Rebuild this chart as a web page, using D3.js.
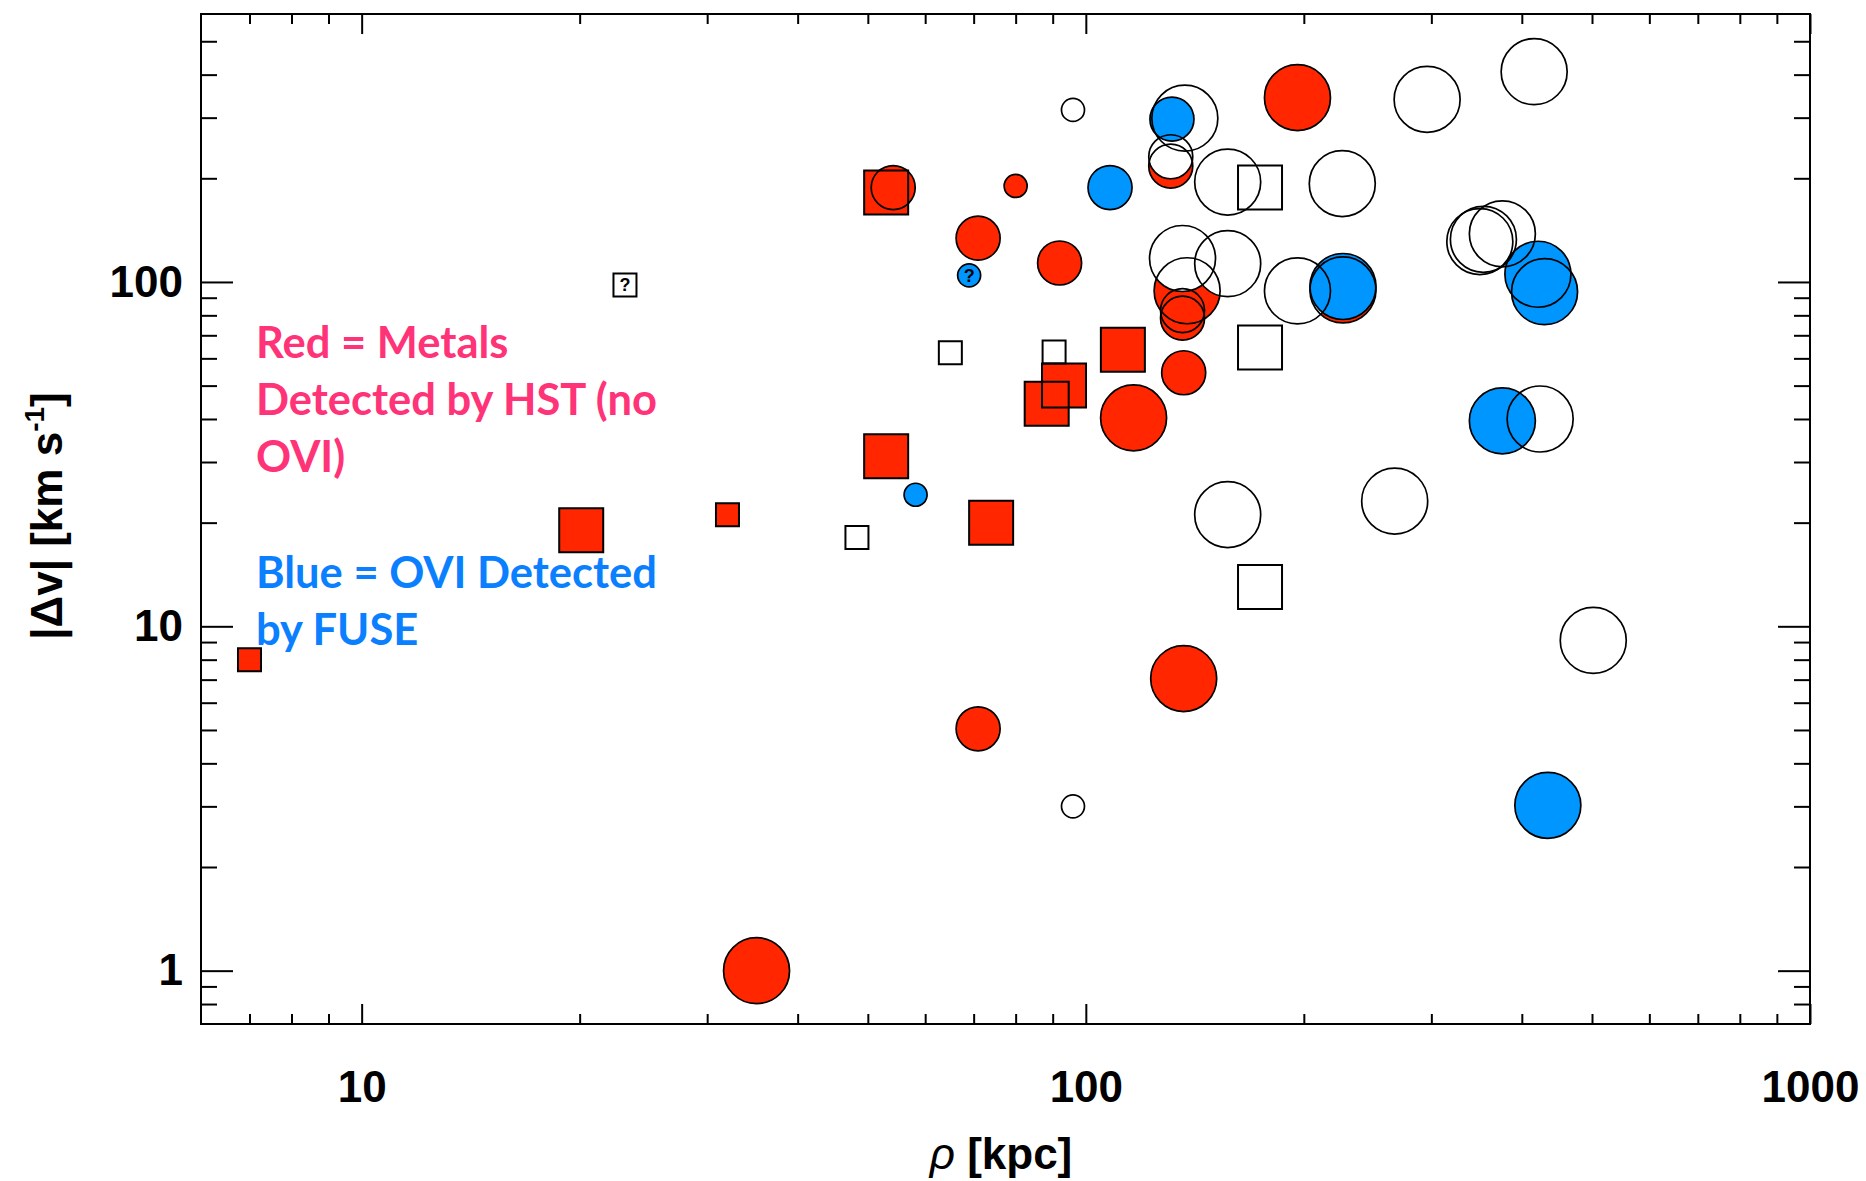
<!DOCTYPE html>
<html>
<head>
<meta charset="utf-8">
<script src="https://cdn.jsdelivr.net/npm/d3@7"></script>
<style>
  body { margin: 0; background: #fff; }
  .tick text { font-family: "Liberation Sans", Arial, sans-serif; font-weight: bold; font-size: 44px; fill: #000; }
  .axis-title { font-family: "Liberation Sans", Arial, sans-serif; font-weight: bold; font-size: 44px; fill: #000; }
  .note { font-family: Lato, "Open Sans", sans-serif; font-weight: bold; font-size: 43.5px; }
</style>
</head>
<body>
<div id="chart"></div>
<script>
// SVG size and margins
var svgWidth = 1866;
var svgHeight = 1181;
var margin = { top: 14, right: 56, bottom: 157, left: 201 };
var width = svgWidth - margin.left - margin.right;
var height = svgHeight - margin.top - margin.bottom;

// impact parameter rho [kpc]
var rho = [7.0, 20.1, 32, 53, 53, 74, 93.3, 88.3, 112.5,
    54.2, 80, 71, 92, 131, 196, 138, 136, 136, 136.5, 116.4, 136.5, 71, 35.1, 226.5,
    96, 137, 131, 157, 296, 416, 226, 136, 157, 196, 350, 354, 376, 424, 267, 157, 502, 96,
    23.1, 48.3, 65, 90.4, 174, 174, 174,
    58.2, 69, 108, 131.5, 226.5, 430, 421, 376, 434.5];
// |delta v| [km/s]
var dv = [8.0, 19.0, 21.1, 182, 31.2, 20, 50, 44.3, 63.5,
    188, 190, 134, 113.5, 217, 343, 94.3, 82.6, 78.5, 54.5, 40.3, 7.05, 5.04, 1.0, 94.8,
    316, 299, 231, 195, 339, 408, 193, 117, 113, 94.2, 131, 133, 138, 40, 23.1, 21.1, 9.1, 3.0,
    98, 18.1, 62.3, 62.6, 188, 64.5, 13,
    24.1, 104.5, 188, 297, 97, 93.7, 105.3, 39.5, 3.02];
// symbol: c = circle, s = square
var shape = ['s', 's', 's', 's', 's', 's', 's', 's', 's',
    'c', 'c', 'c', 'c', 'c', 'c', 'c', 'c', 'c', 'c', 'c', 'c', 'c', 'c', 'c',
    'c', 'c', 'c', 'c', 'c', 'c', 'c', 'c', 'c', 'c', 'c', 'c', 'c', 'c', 'c', 'c', 'c', 'c',
    's', 's', 's', 's', 's', 's', 's',
    'c', 'c', 'c', 'c', 'c', 'c', 'c', 'c', 'c'];
// detection: metals (HST), none, ovi (FUSE)
var detect = [].concat(d3.range(24).map(() => 'metals'),
    d3.range(25).map(() => 'none'),
    d3.range(9).map(() => 'ovi'));
// symbol size class
var sizeClass = [1, 2, 1, 2, 2, 2, 2, 2, 2,
    2, 1, 2, 2, 2, 3, 3, 2, 2, 2, 3, 3, 2, 3, 3,
    1, 3, 2, 3, 3, 3, 3, 3, 3, 3, 3, 3, 3, 3, 3, 3, 3, 1,
    1, 1, 1, 1, 2, 2, 2,
    1, 1, 2, 2, 3, 3, 3, 3, 3];
// uncertain points, marked with ?
var uncertain = [43, 51];

var xTicksMajor = [10, 100, 1000];
var xTicksMinor = [7, 8, 9, 20, 30, 40, 50, 60, 70, 80, 90, 200, 300, 400, 500, 600, 700, 800, 900];
var yTicksMajor = [1, 10, 100];
var yTicksMinor = [0.8, 0.9, 2, 3, 4, 5, 6, 7, 8, 9, 20, 30, 40, 50, 60, 70, 80, 90, 200, 300, 400, 500];

var fillColor = { metals: '#ff2600', none: '#ffffff', ovi: '#0096ff' };
var drawOrder = { metals: 0, none: 1, ovi: 2 };

var points = rho.map((r, i) => ({
    i: i + 1, rho: r, dv: dv[i], shape: shape[i], detect: detect[i], size: sizeClass[i]
}));
points.sort((a, b) => drawOrder[a.detect] - drawOrder[b.detect] || a.i - b.i);

var svg = d3.select("#chart").append("svg")
    .attr("width", svgWidth)
    .attr("height", svgHeight);
var chartGroup = svg.append("g")
    .attr("transform", `translate(${margin.left}, ${margin.top})`);

var xScale = d3.scaleLog().domain([6, 1000]).range([0, width]);
var yScale = d3.scaleLog().domain([0.7, 600]).range([height, 0]);
var radius = d3.scaleOrdinal().domain([1, 2, 3]).range([11.5, 22, 33]);

function symbolPath(d) {
    var r = radius(d.size);
    if (d.shape === 's') {
        return d3.symbol().type(d3.symbolSquare).size(4 * r * r)();
    }
    return d3.symbol().type(d3.symbolCircle).size(Math.PI * r * r)();
}

// fills first, then all outlines on top
chartGroup.append("g").selectAll("path")
    .data(points)
    .enter()
    .append("path")
    .attr("d", symbolPath)
    .attr("transform", d => `translate(${xScale(d.rho)}, ${yScale(d.dv)})`)
    .attr("fill", d => fillColor[d.detect])
    .attr("stroke", "none");

chartGroup.append("g").selectAll("path")
    .data(points)
    .enter()
    .append("path")
    .attr("d", symbolPath)
    .attr("transform", d => `translate(${xScale(d.rho)}, ${yScale(d.dv)})`)
    .attr("fill", "none")
    .attr("stroke", "#000")
    .attr("stroke-width", d => d.shape === 's' ? 2 : 1.7);

chartGroup.append("g").selectAll("text")
    .data(points.filter(d => uncertain.includes(d.i)))
    .enter()
    .append("text")
    .text("?")
    .attr("x", d => xScale(d.rho))
    .attr("y", d => yScale(d.dv))
    .attr("text-anchor", "middle")
    .attr("dy", "0.36em")
    .attr("font-family", "Liberation Sans, Arial, sans-serif")
    .attr("font-weight", "bold")
    .attr("font-size", 18);

// axes: ticks point inward on all four sides
function addAxis(axis, transform) {
    var g = chartGroup.append("g").attr("transform", transform).call(axis);
    g.select(".domain").remove();
    g.selectAll(".tick line").attr("stroke", "#000").attr("stroke-width", 2);
    return g;
}
addAxis(d3.axisBottom(xScale).tickValues(xTicksMajor).tickSize(-20).tickPadding(47).tickFormat(d3.format("d")), `translate(0, ${height})`);
addAxis(d3.axisBottom(xScale).tickValues(xTicksMinor).tickSize(-10).tickFormat(""), `translate(0, ${height})`);
addAxis(d3.axisTop(xScale).tickValues(xTicksMajor).tickSize(-20).tickFormat(""), "translate(0, 0)");
addAxis(d3.axisTop(xScale).tickValues(xTicksMinor).tickSize(-10).tickFormat(""), "translate(0, 0)");
addAxis(d3.axisLeft(yScale).tickValues(yTicksMajor).tickSize(-32).tickPadding(18).tickFormat(d3.format("d")), "translate(0, 0)");
addAxis(d3.axisLeft(yScale).tickValues(yTicksMinor).tickSize(-16).tickFormat(""), "translate(0, 0)");
addAxis(d3.axisRight(yScale).tickValues(yTicksMajor).tickSize(-32).tickFormat(""), `translate(${width}, 0)`);
addAxis(d3.axisRight(yScale).tickValues(yTicksMinor).tickSize(-16).tickFormat(""), `translate(${width}, 0)`);

chartGroup.append("rect")
    .attr("width", width)
    .attr("height", height)
    .attr("fill", "none")
    .attr("stroke", "#000")
    .attr("stroke-width", 2);

// axis titles
var xTitle = svg.append("text")
    .attr("class", "axis-title")
    .attr("x", 1001)
    .attr("y", 1169)
    .attr("text-anchor", "middle");
xTitle.append("tspan").attr("font-style", "italic").attr("font-weight", "normal").text("\u03c1");
xTitle.append("tspan").text(" [kpc]");

var yTitle = svg.append("text")
    .attr("class", "axis-title")
    .attr("text-anchor", "middle")
    .attr("transform", "translate(62, 516) rotate(-90)");
yTitle.append("tspan").text("|\u0394v|  [km s");
yTitle.append("tspan").attr("font-size", 28).attr("dy", -18).text("-1");
yTitle.append("tspan").attr("dy", 18).text("]");

// annotation text
var redNote = ["Red = Metals", "Detected by HST (no", "OVI)"];
var blueNote = ["Blue = OVI Detected", "by FUSE"];
redNote.forEach((t, k) => {
    svg.append("text").attr("class", "note").attr("fill", "#ff3377")
        .attr("x", 256).attr("y", 358 + k * 57).text(t);
});
blueNote.forEach((t, k) => {
    svg.append("text").attr("class", "note").attr("fill", "#0a80ff")
        .attr("x", 256).attr("y", 588 + k * 57).text(t);
});
</script>
</body>
</html>
